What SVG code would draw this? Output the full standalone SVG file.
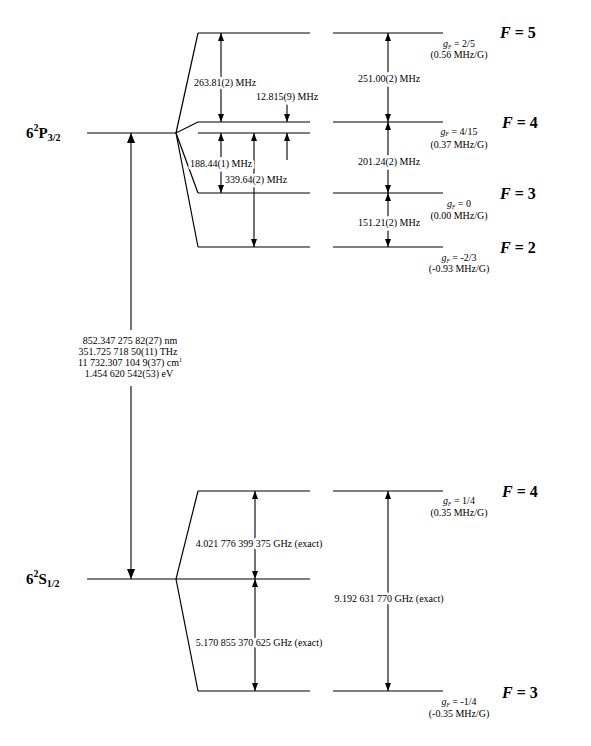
<svg xmlns="http://www.w3.org/2000/svg" width="591" height="746" viewBox="0 0 591 746">
<style>
.lv{stroke:#000;stroke-width:1.2;fill:none}
.ar{stroke:#000;stroke-width:1.1;fill:none}
.sa{marker-start:url(#ah);marker-end:url(#ah)}
.ea{marker-end:url(#ah)}
.t{font-family:"Liberation Serif","Times New Roman",serif;font-size:10px;fill:#000}
.h{stroke:#fff;stroke-width:5;paint-order:stroke;stroke-linejoin:round}
.m{text-anchor:middle}
.sub{font-size:5.5px;font-style:italic}
.F{font-family:"Liberation Serif","Times New Roman",serif;font-size:16px;font-weight:bold;fill:#000}
.st{font-family:"Liberation Serif","Times New Roman",serif;font-size:15px;font-weight:bold;fill:#000}
</style>
<defs>
<marker id="ah" viewBox="0 0 8 6" refX="8" refY="3" markerWidth="8" markerHeight="6" markerUnits="userSpaceOnUse" orient="auto-start-reverse">
<path d="M0,0 L8,3 L0,6 z" fill="#000"/>
</marker>
<marker id="ahL" viewBox="0 0 10 8" refX="10" refY="4" markerWidth="10" markerHeight="8" markerUnits="userSpaceOnUse" orient="auto-start-reverse">
<path d="M0,0 L10,4 L0,8 z" fill="#000"/>
</marker>
</defs>
<rect width="591" height="746" fill="#fff"/>

<g id="state-P32">
<line class="lv" x1="87" y1="133" x2="176" y2="133"/>
<text class="st" x="26" y="138">6<tspan dy="-7" font-size="10">2</tspan><tspan dy="7">P</tspan><tspan dy="3" font-size="10">3/2</tspan></text>
</g>
<g id="state-S12">
<line class="lv" x1="87" y1="579" x2="176" y2="579"/>
<text class="st" x="26" y="584">6<tspan dy="-7" font-size="10">2</tspan><tspan dy="7">S</tspan><tspan dy="3" font-size="10">1/2</tspan></text>
</g>

<g id="P-F5">
<line class="lv" x1="198" y1="33" x2="310" y2="33"/>
<line class="lv" x1="333" y1="33" x2="443" y2="33"/>
<text class="F" x="500" y="38"><tspan font-style="italic">F</tspan> = 5</text>
<text class="t m" x="459" y="47"><tspan font-style="italic">g</tspan><tspan class="sub" dy="1.5">F</tspan><tspan dy="-1.5"> = 2/5</tspan></text>
<text class="t m" x="459" y="58">(0.56 MHz/G)</text>
</g>
<g id="P-F4">
<line class="lv" x1="198" y1="122" x2="310" y2="122"/>
<line class="lv" x1="333" y1="122" x2="443" y2="122"/>
<text class="F" x="502" y="128"><tspan font-style="italic">F</tspan> = 4</text>
<text class="t m" x="459" y="134.5"><tspan font-style="italic">g</tspan><tspan class="sub" dy="1.5">F</tspan><tspan dy="-1.5"> = 4/15</tspan></text>
<text class="t m" x="459" y="147.5">(0.37 MHz/G)</text>
</g>
<g id="P-centroid">
<line class="lv" x1="198" y1="133" x2="310" y2="133"/>
</g>
<g id="P-F3">
<line class="lv" x1="198" y1="193" x2="310" y2="193"/>
<line class="lv" x1="333" y1="193" x2="443" y2="193"/>
<text class="F" x="500" y="199"><tspan font-style="italic">F</tspan> = 3</text>
<text class="t m" x="459" y="207"><tspan font-style="italic">g</tspan><tspan class="sub" dy="1.5">F</tspan><tspan dy="-1.5"> = 0</tspan></text>
<text class="t m" x="459" y="219">(0.00 MHz/G)</text>
</g>
<g id="P-F2">
<line class="lv" x1="198" y1="247" x2="310" y2="247"/>
<line class="lv" x1="333" y1="247" x2="443" y2="247"/>
<text class="F" x="500" y="253"><tspan font-style="italic">F</tspan> = 2</text>
<text class="t m" x="459" y="261"><tspan font-style="italic">g</tspan><tspan class="sub" dy="1.5">F</tspan><tspan dy="-1.5"> = -2/3</tspan></text>
<text class="t m" x="459" y="272">(-0.93 MHz/G)</text>
</g>

<g id="S-F4">
<line class="lv" x1="198" y1="491" x2="310" y2="491"/>
<line class="lv" x1="333" y1="491" x2="443" y2="491"/>
<text class="F" x="502" y="497"><tspan font-style="italic">F</tspan> = 4</text>
<text class="t m" x="459" y="504"><tspan font-style="italic">g</tspan><tspan class="sub" dy="1.5">F</tspan><tspan dy="-1.5"> = 1/4</tspan></text>
<text class="t m" x="459" y="516">(0.35 MHz/G)</text>
</g>
<g id="S-centroid">
<line class="lv" x1="198" y1="579" x2="310" y2="579"/>
</g>
<g id="S-F3">
<line class="lv" x1="198" y1="691" x2="310" y2="691"/>
<line class="lv" x1="333" y1="691" x2="443" y2="691"/>
<text class="F" x="502" y="698"><tspan font-style="italic">F</tspan> = 3</text>
<text class="t m" x="459" y="705"><tspan font-style="italic">g</tspan><tspan class="sub" dy="1.5">F</tspan><tspan dy="-1.5"> = -1/4</tspan></text>
<text class="t m" x="459" y="716.5">(-0.35 MHz/G)</text>
</g>

<g id="connectors">
<path class="lv" d="M198,33 L176,133 L198,122 M176,133 L198,193 M176,133 L198,247"/>
<path class="lv" d="M198,491 L176,579 L198,691 M176,579 L198,579"/>
<line class="ar sa" x1="221" y1="33" x2="221" y2="122"/>
<line class="ar ea" x1="287" y1="101" x2="287" y2="122"/>
<line class="ar ea" x1="287" y1="160" x2="287" y2="133"/>
<line class="ar sa" x1="221" y1="133" x2="221" y2="193"/>
<line class="ar sa" x1="254" y1="133" x2="254" y2="247"/>
<line class="ar sa" x1="388" y1="33" x2="388" y2="122"/>
<line class="ar sa" x1="388" y1="122" x2="388" y2="193"/>
<line class="ar sa" x1="388" y1="193" x2="388" y2="247"/>
<line class="ar" x1="131" y1="133" x2="131" y2="579" marker-start="url(#ahL)" marker-end="url(#ahL)"/>
<line class="ar sa" x1="255" y1="491" x2="255" y2="579"/>
<line class="ar sa" x1="255" y1="579" x2="255" y2="691"/>
<line class="ar sa" x1="388" y1="491" x2="388" y2="691"/>
</g>

<g id="labels">
<text class="t m h" x="225" y="85.5">263.81(2) MHz</text>
<text class="t m h" x="287" y="99.5">12.815(9) MHz</text>
<text class="t m h" x="221" y="166.5">188.44(1) MHz</text>
<text class="t h" x="225" y="182.5">339.64(2) MHz</text>
<text class="t m h" x="389" y="81.5">251.00(2) MHz</text>
<text class="t m h" x="389" y="164.5">201.24(2) MHz</text>
<text class="t m h" x="389" y="225.5">151.21(2) MHz</text>
<rect x="82" y="330" width="98" height="56" fill="#fff"/>
<text class="t m" x="130" y="344">852.347 275 82(27) nm</text>
<text class="t m" x="128" y="355">351.725 718 50(11) THz</text>
<text class="t m" x="130" y="366">11 732.307 104 9(37) cm<tspan font-size="6" dy="-4">1</tspan></text>
<text class="t m" x="129" y="377">1.454 620 542(53) eV</text>
<text class="t m h" x="259" y="546.5">4.021 776 399 375 GHz (exact)</text>
<text class="t m h" x="259" y="645.5">5.170 855 370 625 GHz (exact)</text>
<text class="t m h" x="389" y="601.5">9.192 631 770 GHz (exact)</text>
</g>
</svg>
